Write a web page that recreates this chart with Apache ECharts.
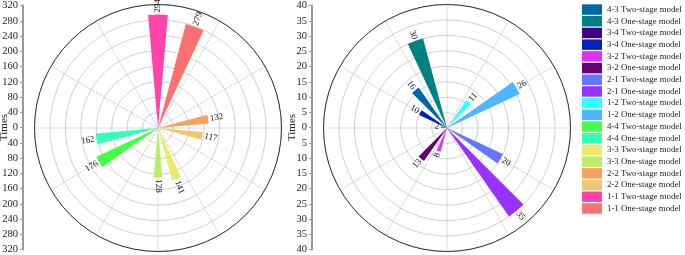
<!DOCTYPE html>
<html><head><meta charset="utf-8">
<script src="https://cdn.jsdelivr.net/npm/echarts@6/dist/echarts.min.js"></script>
<style>html,body{margin:0;padding:0;background:#fff}#c{width:685px;height:255px}</style>
</head><body><div id="c"></div>
<script>
// Slots go clockwise from 12 o'clock, 20 degrees apart (18 slots)
const slotNames = [
  '1-1 Two-stage model', '1-1 One-stage model', '1-2 Two-stage model', '1-2 One-stage model',
  '2-2 Two-stage model', '2-2 One-stage model', '2-1 Two-stage model', '2-1 One-stage model',
  '3-3 Two-stage model', '3-3 One-stage model', '3-2 Two-stage model', '3-2 One-stage model',
  '4-4 Two-stage model', '4-4 One-stage model', '3-4 Two-stage model', '3-4 One-stage model',
  '4-3 Two-stage model', '4-3 One-stage model'];
const slotValues = [294, 279, 11, 26, 132, 117, 20, 35, 141, 128, 8, 13, 176, 162, 2, 10, 16, 30];
const slotPanel = [0, 0, 1, 1, 0, 0, 1, 1, 0, 0, 1, 1, 0, 0, 1, 1, 1, 1];
const slotColors = ['#FF44AA', '#FF7070', '#33FFFF', '#4DB8FF', '#F4A460', '#EEC86E', '#6677FF', '#9933FF',
  '#EEE86E', '#BBEE66', '#DD33FF', '#660077', '#44FF44', '#33FFBB', '#440088', '#0022BB', '#0066AA', '#008080'];
const legendOrder = [
  '4-3 Two-stage model', '4-3 One-stage model', '3-4 Two-stage model', '3-4 One-stage model',
  '3-2 Two-stage model', '3-2 One-stage model', '2-1 Two-stage model', '2-1 One-stage model',
  '1-2 Two-stage model', '1-2 One-stage model', '4-4 Two-stage model', '4-4 One-stage model',
  '3-3 Two-stage model', '3-3 One-stage model', '2-2 Two-stage model', '2-2 One-stage model',
  '1-1 Two-stage model', '1-1 One-stage model'];
const leftScale = { max: 320, interval: 40 };
const rightScale = { max: 40, interval: 5 };
const axisName = 'Times';

const FONT = 'Liberation Serif';
const slotIdx = slotNames.map((_, i) => String(i));
const centers = [[158, 128], [447, 128]];
const R = 123.5;
const scales = [leftScale, rightScale];

const polar = [];
const angleAxis = [];
const radiusAxis = [];
for (let p = 0; p < 2; p++) {
  polar.push({ center: centers[p], radius: R });
  angleAxis.push({ polarIndex: p, type: 'value', min: 0, max: 360, interval: 30, startAngle: 90,
    axisLine: { show: false }, axisTick: { show: false }, axisLabel: { show: false },
    splitLine: { show: true, lineStyle: { color: '#bbb', type: 'dotted', width: 1 } } });
  radiusAxis.push({ polarIndex: p, type: 'value', min: 0, max: scales[p].max, interval: scales[p].interval,
    axisLine: { show: false }, axisTick: { show: false }, axisLabel: { show: false },
    splitLine: { show: true, lineStyle: { color: '#d0d0d0', width: 1 } } });
}
for (let p = 0; p < 2; p++) {
  polar.push({ center: centers[p], radius: R });
  angleAxis.push({ polarIndex: 2 + p, type: 'category', data: slotIdx, boundaryGap: true,
    startAngle: 100, clockwise: true, z: 3,
    axisLine: { show: true, lineStyle: { color: '#333', width: 1 } },
    axisTick: { show: false }, axisLabel: { show: false }, splitLine: { show: false } });
  radiusAxis.push({ polarIndex: 2 + p, type: 'value', min: 0, max: scales[p].max,
    axisLine: { show: false }, axisTick: { show: false }, axisLabel: { show: false }, splitLine: { show: false } });
}

const series = slotNames.map((name, i) => {
  const data = slotIdx.map((_, j) => (j === i ? slotValues[i] : '-'));
  const theta = 90 - 20 * i;
  let rot = theta;
  while (rot > 90) rot -= 180;
  while (rot < -90) rot += 180;
  const digits = String(slotValues[i]).length;
  return {
    type: 'bar', name, coordinateSystem: 'polar', polarIndex: 2 + slotPanel[i],
    data, barWidth: '50%', stack: 'panel' + slotPanel[i], z: 4, clip: false,
    itemStyle: { color: slotColors[i] },
    label: { show: true, position: 'end', distance: 2 + digits * 2.2, rotate: rot * Math.PI / 180,
      align: 'center', verticalAlign: 'middle',
      fontSize: 9, fontFamily: FONT, color: '#111' }
  };
});

const grid = [
  { left: 22, top: 5, width: 1, height: 246.5 },
  { left: 312, top: 5, width: 1, height: 246.5 }
];
const xAxis = [0, 1].map(g => ({ gridIndex: g, type: 'value', show: false }));
const yAxis = [0, 1].map(g => ({
  gridIndex: g, type: 'value', min: -scales[g].max, max: scales[g].max, interval: scales[g].interval,
  axisLine: { show: true, lineStyle: { color: '#999', width: 2 } },
  axisTick: { show: true, length: 3, lineStyle: { color: '#999', width: 1 } },
  axisLabel: { formatter: v => String(Math.abs(v)), fontSize: 10.5, fontFamily: FONT, color: '#222', margin: 5 },
  splitLine: { show: false },
  name: axisName, nameLocation: 'middle', nameGap: g === 0 ? 13 : 14, nameMoveOverlap: false,
  nameTextStyle: { fontSize: 11, fontFamily: FONT, color: '#222' }
}));

const chart = echarts.init(document.getElementById('c'), null, { renderer: 'canvas' });
chart.setOption({
  animation: false,
  backgroundColor: '#fff',
  grid, xAxis, yAxis, polar, angleAxis, radiusAxis,
  legend: {
    orient: 'vertical', left: 582, top: 4.3, itemWidth: 20, itemHeight: 10.5, itemGap: 1.2,
    icon: 'rect', data: legendOrder, selectedMode: false, padding: 0,
    textStyle: { fontSize: 8.8, fontFamily: FONT, color: '#222', overflow: 'none' }
  },
  series
});
</script></body></html>
